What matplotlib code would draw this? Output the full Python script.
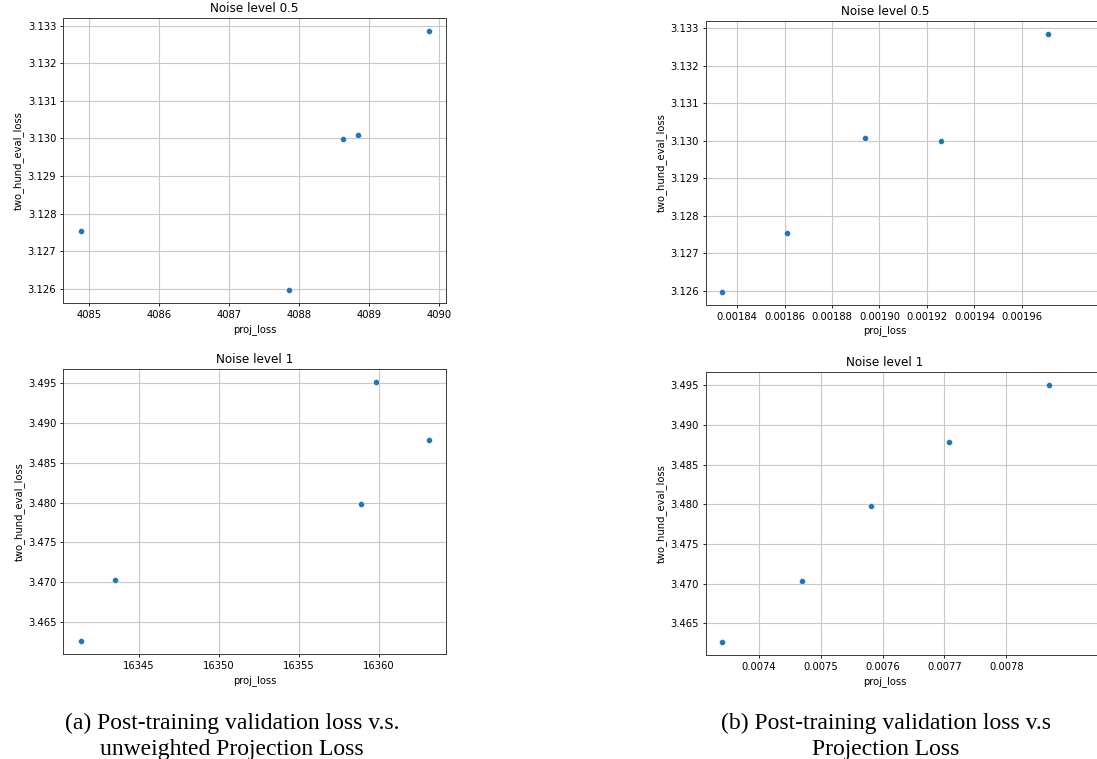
import matplotlib

matplotlib.use("Agg")

import matplotlib.pyplot as plt  # noqa: E402

W, H = 1097, 759

# noise level 0.5
proj_unw_05 = [4084.881, 4087.848, 4088.624, 4088.833, 4089.848]
eval_unw_05 = [3.12754, 3.12596, 3.12999, 3.13008, 3.13285]
proj_w_05 = [0.0018337, 0.0018609, 0.0018938, 0.0019259, 0.0019712]
eval_w_05 = [3.12596, 3.12754, 3.13008, 3.13000, 3.13285]

# noise level 1
proj_unw_1 = [16341.35, 16343.52, 16358.92, 16359.83, 16363.13]
eval_unw_1 = [3.46258, 3.47033, 3.47978, 3.49510, 3.48782]
proj_w_1 = [0.0073413, 0.0074705, 0.0075809, 0.0077074, 0.0078684]
eval_w_1 = [3.46258, 3.47033, 3.47978, 3.48782, 3.49510]

titles = ["Noise level 0.5", "Noise level 1"]
ticks_w_05 = ["0.00184", "0.00186", "0.00188", "0.00190", "0.00192", "0.00194", "0.00196"]
ticks_w_1 = ["0.0074", "0.0075", "0.0076", "0.0077", "0.0078"]
caption_a = ["(a) Post-training validation loss v.s.", "unweighted Projection Loss"]
caption_b = ["(b) Post-training validation loss v.s", "Projection Loss"]

BLUE = "#1f77b4"
FS = 7.2


def _px_axes(fig, left, top, right, bottom):
    return fig.add_axes([left / W, 1 - bottom / H, (right - left) / W, (bottom - top) / H])


def _panel(ax, x, y, title):
    ax.scatter(x, y, s=19, color=BLUE, edgecolor="white", linewidth=0.35, zorder=3)
    ax.set_title(title, fontsize=FS * 1.2, pad=4.3)
    ax.set_xlabel("proj_loss", fontsize=FS, labelpad=2.5)
    ax.set_ylabel("two_hund_eval_loss", fontsize=FS, labelpad=2.5)
    ax.tick_params(labelsize=FS, length=2.5, width=0.6, pad=2.5)
    ax.grid(True, color="#c8c8c8", linewidth=0.8)
    ax.set_axisbelow(True)
    for sp in ax.spines.values():
        sp.set_color("#3a3a3a")
        sp.set_linewidth(0.7)


def _caption(fig, cx, lines):
    for base, line in zip([729, 755], lines):
        fig.text(cx / W, 1 - base / H, line, ha="center", va="baseline",
                 fontsize=17, family="Liberation Serif")


fig = plt.figure(figsize=(W / 100, H / 100), dpi=100)

ax = _px_axes(fig, 63.3, 18.3, 446, 303.3)
_panel(ax, proj_unw_05, eval_unw_05, titles[0])

ax = _px_axes(fig, 63.3, 369.3, 446, 654.3)
_panel(ax, proj_unw_1, eval_unw_1, titles[1])
ax.set_xticks([16345, 16350, 16355, 16360])

# right-hand panels run off the edge of the page in the original
ax = _px_axes(fig, 705.7, 20.7, 1100, 305)
_panel(ax, proj_w_05, eval_w_05, titles[0])
ax.set_xlim(0.0018268, 0.0019929)
ax.set_xticks([float(t) for t in ticks_w_05])
ax.set_xticklabels(ticks_w_05)
ax.title.set_position((0.455, 1.0))
ax.xaxis.label.set_position((0.455, 0))

ax = _px_axes(fig, 705.7, 371.7, 1100, 655.3)
_panel(ax, proj_w_1, eval_w_1, titles[1])
ax.set_xlim(0.0073144, 0.0079513)
ax.set_xticks([float(t) for t in ticks_w_1])
ax.set_xticklabels(ticks_w_1)
ax.title.set_position((0.455, 1.0))
ax.xaxis.label.set_position((0.455, 0))

_caption(fig, 232, caption_a)
_caption(fig, 886, caption_b)

fig.savefig("out.png", dpi=100)
